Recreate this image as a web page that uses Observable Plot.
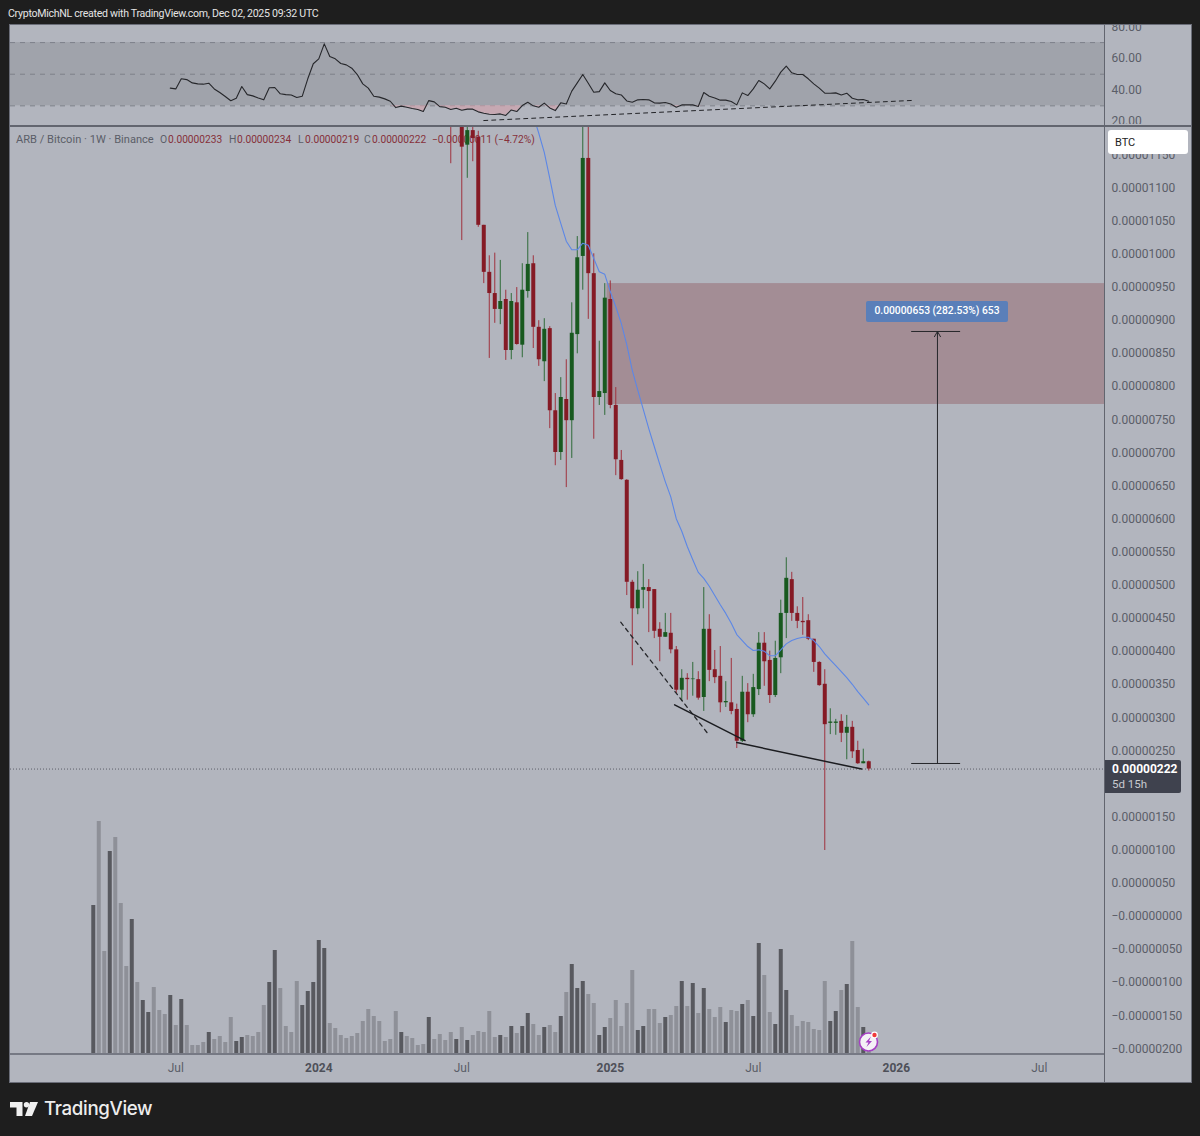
<!DOCTYPE html>
<html>
<head>
<meta charset="utf-8">
<script src="https://cdn.jsdelivr.net/npm/d3@7"></script>
<script src="https://cdn.jsdelivr.net/npm/@observablehq/plot@0.6"></script>
<style>
html,body{margin:0;padding:0;background:#1e1e1e;}
#stage{position:relative;width:1200px;height:1136px;overflow:hidden;background:#1e1e1e;font-family:Roboto,sans-serif;}
#stage>*{position:absolute;}
.txt{white-space:nowrap;}
</style>
</head>
<body>
<div id="stage"></div>
<script>
// ---------- data (prices in satoshi: 222 = 0.00000222 BTC) ----------
const firstWeek = Date.UTC(2023, 2, 20);
const candleStart = 65;
const opens  = [1300,1220,1210,1164,1186,1176,1043,972,940,916,931,854,926,862,943,985,889,837,887,763,700,780,748,878,996,1144,970,783,789,931,771,688,658,504,464,492,496,493,433,421,427,402,341,359,357,357,330,433,372,362,322,322,312,264,338,304,342,412,386,333,390,457,508,457,445,446,418,383,350,291,291,294,276,285,250,230,233];
const highs  = [1310,1330,1260,1230,1240,1185,1043,997,1001,990,945,940,949,985,1032,997,899,902,890,789,813,840,926,1026,1230,1230,1000,868,955,959,798,703,659,507,520,531,508,493,443,457,457,407,372,366,383,369,496,455,401,407,354,389,320,362,351,365,428,428,400,415,477,541,519,467,481,455,418,384,372,313,297,304,303,294,264,252,234];
const lows   = [1136,1200,1020,1114,1139,1040,955,842,895,893,839,840,862,843,933,857,830,807,736,680,688,647,691,849,945,901,720,771,756,766,665,658,484,378,455,464,428,419,384,421,396,336,324,326,332,326,309,354,351,307,315,304,253,262,292,300,333,347,321,330,366,419,445,434,424,416,368,347,99,274,273,262,236,238,229,230,219];
const closes = [1220,1300,1161,1186,1174,1043,972,940,916,928,854,928,863,945,984,889,840,886,763,700,783,748,880,994,1144,970,783,792,933,771,689,659,504,464,492,496,490,430,421,428,402,341,359,357,358,329,433,371,360,322,324,309,264,338,304,345,412,384,333,389,457,510,457,445,443,418,383,348,289,293,293,276,285,248,230,233,222];

const maStart = 80;
const maValues = [1209,1182,1153,1114,1073,1046,1019,1006,1006,1016,1013,993,973,969,943,920,895,863,824,794,765,736,709,682,656,633,600,581,558,538,519,510,498,484,470,457,442,425,416,407,401,402,400,393,393,402,411,416,419,421,421,416,407,396,387,378,369,360,350,339,329,319];

const volumeHeights = [148,232,102,202,216,150,87,134,71,53,41,66,43,39,58,28,54,28,8,8,11,21,14,17,11,36,12,16,18,17,21,48,71,103,65,27,21,72,48,62,71,113,105,30,25,18,15,17,20,32,44,37,32,12,14,42,21,17,15,8,9,36,14,19,13,21,14,26,13,18,22,21,42,16,18,16,27,20,27,40,29,18,26,28,21,37,61,89,65,72,59,50,18,26,35,53,27,50,83,23,27,44,44,30,36,38,47,72,47,70,40,65,44,36,46,31,43,42,49,53,37,110,78,41,29,104,63,38,27,32,31,24,23,72,32,42,63,69,112,46,26,12];
const volumeDark = [1,0,0,1,0,0,0,1,0,1,1,0,0,0,1,0,1,0,0,0,0,1,0,0,0,0,1,1,0,0,0,0,1,1,0,0,0,0,1,1,1,1,1,0,0,0,0,0,0,0,0,0,0,0,0,0,1,0,0,0,0,1,0,0,0,0,1,0,1,0,0,0,0,0,1,0,1,0,1,1,0,0,1,0,0,1,0,1,1,1,0,0,1,1,0,0,0,0,0,1,1,0,0,0,1,0,0,1,0,1,0,1,0,0,0,1,0,0,1,0,1,1,0,0,1,1,1,0,0,0,0,0,0,0,1,1,0,1,0,0,1,0];

const rsiStart = 14;
const rsiValues = [41.2,40.7,47.1,46.6,44.5,43.9,43.7,44.3,40.7,38.4,35.9,33.2,34.8,42.2,37.1,36.3,35.0,33.8,41.4,41.6,37.6,37.1,36.9,35.3,36.1,47.1,56.6,59.7,69.2,61.2,59.7,56.8,55.9,53.8,49.8,43.9,41.2,36.1,35.5,34.4,32.9,28.9,29.8,29.1,28.3,27.7,26.4,33.3,32.5,29.5,29.1,27.7,28.5,27.2,27.9,27.9,26.2,25.3,24.7,24.5,24.9,23.9,27.4,26.4,30.2,32.3,30.0,29.1,31.7,28.7,27.0,31.9,31.2,39.3,44.5,49.8,44.3,38.6,39.0,44.5,39.7,37.6,36.9,33.1,32.3,33.8,34.0,33.8,31.9,31.7,32.1,31.2,29.1,30.6,30.6,30.6,29.6,38.4,36.1,35.0,33.6,33.6,32.7,30.6,38.2,36.5,40.7,46.0,43.9,40.7,45.6,51.3,55.1,50.9,49.8,49.8,47.1,43.9,41.2,38.0,38.0,38.2,36.9,38.0,34.8,33.8,34.0,32.9];
const rsiLevels = [30,50,70];
const rsiTicks = [20,40,60,80];
const rsiTrend = [[71,20.7],[148.8,33.4]];

const priceTicks = d3.range(-200,1151,50).filter(v=>v!==200);
const lastPrice = 222;
const zone = {w1:93.4, w2:184, low:772.5, high:955};
const measure = {w:153.49, w1:148.8, w2:157.7, from:230.4, to:882.7};
const measureLabel = "0.00000653 (282.53%) 653";
const dashedFall = [[95.9,443.7],[111.7,276]];
const solidFallA = [[105.7,319],[118.5,265]];
const solidFallB = [[117,262],[139.7,222]];
const julyTicks = [[2023,6,3],[2024,6,1],[2025,6,7],[2026,6,6]];
const yearTicks = [[2024,0,1],[2025,0,6],[2026,0,5]];

// ---------- colours ----------
const upColor="#18591f", downColor="#851a25", upWick="#2f6b38", downWick="#a0323e", axisColor="#5b5e68", paneColor="#b2b5be", lineColor="#6a6d78";

// ---------- helpers ----------
const week = w => new Date(firstWeek + w*7*864e5);
const xOpts = {type:"utc", domain:[week(-15.05), week(183.86)]};
const plotBase = {width:1200, marginLeft:10, marginRight:96, x:xOpts, style:{background:"transparent",fontFamily:"Roboto,sans-serif",fontSize:"12px"}};
const noXAxis = {...xOpts, axis:null};
const stage = document.getElementById("stage");
function place(node,left,top){node.style.position="absolute";node.style.left=left+"px";node.style.top=top+"px";stage.appendChild(node);return node;}
function box(left,top,w,h,bg,extra){const d=document.createElement("div");d.style.cssText=`width:${w}px;height:${h}px;background:${bg};${extra||""}`;return place(d,left,top);}
function text(left,top,str,css){const d=document.createElement("div");d.className="txt";d.textContent=str;d.style.cssText=css||"";return place(d,left,top);}

// ---------- frame ----------
box(9,24,1183,1059,lineColor);
box(10,25,1181,1057,paneColor);
box(10,125,1181,2,"#62656f");
box(1104,25,1,1057,"#62656f");
box(10,1053,1094,2,"#767984");

// ---------- table builds ----------
const candles = opens.map((o,k)=>({date:week(candleStart+k),open:o,high:highs[k],low:lows[k],close:closes[k]}));
const ma = maValues.map((v,k)=>({date:week(maStart+k),v}));
const vol = volumeHeights.map((v,k)=>({date:week(k),v,dark:volumeDark[k]}));
const rsi = rsiValues.map((v,k)=>({date:week(rsiStart+k),v}));
const pts = a => a.map(([w,v])=>({date:week(w),v}));
const colorOf = d => d.close>=d.open?upColor:downColor;
const wickOf = d => d.close>=d.open?upWick:downWick;

// ---------- RSI pane ----------
place(Plot.plot({...plotBase,x:noXAxis,height:99,marginTop:0,marginBottom:0,
  y:{domain:[18.2,80.8],axis:null},
  marks:[
    Plot.rect([{a:xOpts.domain[0],b:xOpts.domain[1],l:30,h:70}],{x1:"a",x2:"b",y1:"l",y2:"h",fill:"#a0a3ab"}),
    Plot.ruleY(rsiLevels,{stroke:"#7d808a",strokeDasharray:"5,5"}),
    Plot.areaY(rsi,{x:"date",y1:30,y2:d=>Math.min(d.v,30),fill:"#cfa3ac",fillOpacity:.7}),
    Plot.line(rsi,{x:"date",y:"v",stroke:"#26272b",strokeWidth:1.1}),
    Plot.line(pts(rsiTrend),{x:"date",y:"v",stroke:"#222327",strokeWidth:1,strokeDasharray:"4,4"}),
    Plot.axisY({anchor:"right",ticks:rsiTicks,tickSize:0,tickPadding:7,label:null,tickFormat:d=>d.toFixed(2),fill:axisColor})
  ]}),0,25);

// ---------- legend row (drawn beneath the candles) ----------
const legend = [[16,"ARB / Bitcoin \u00b7 1W \u00b7 Binance","#5b5e68",11.1],[160,"O","#5b5e68",10.4],[168,"0.00000233","#86303a",10.2],[229,"H","#5b5e68",10.4],[237,"0.00000234","#86303a",10.2],[298,"L","#5b5e68",10.4],[305,"0.00000219","#86303a",10.2],[364,"C","#5b5e68",10.4],[372,"0.00000222","#86303a",10.2],[432,"\u22120.00000011 (\u22124.72%)","#86303a",10.2]];
legend.forEach(([x,s,c,f])=>text(x,133,s,`color:${c};font-size:${f}px;line-height:14px;`));

// ---------- volume (under candles) ----------
place(Plot.plot({...plotBase,x:noXAxis,height:926,marginTop:0,marginBottom:0,
  y:{domain:[0,926],axis:null},
  marks:[
    Plot.ruleX(vol.filter(d=>!d.dark),{x:"date",y1:0,y2:"v",stroke:"#8e9098",strokeWidth:4}),
    Plot.ruleX(vol.filter(d=>d.dark),{x:"date",y1:0,y2:"v",stroke:"#58595f",strokeWidth:4})
  ]}),0,127);

// ---------- price pane ----------
const fmtPrice = v => (v<=0?"\u2212":"")+(Math.abs(v)/1e8).toFixed(8);
const ymd = ([y,m,d]) => new Date(Date.UTC(y,m,d));
const zoneRow = [{a:week(zone.w1),b:week(zone.w2),l:zone.low,h:zone.high}];
place(Plot.plot({...plotBase,height:954,marginTop:0,marginBottom:28,
  y:{domain:[-207.5,1190.7],axis:null},
  color:{type:"identity"},
  marks:[
    Plot.rect(zoneRow,{x1:"a",x2:"b",y1:"l",y2:"h",fill:"#a38d95",clip:true}),
    Plot.ruleY([lastPrice],{stroke:"#5b5e68",strokeDasharray:"1,2"}),
    Plot.ruleX(candles,{x:"date",y1:"low",y2:"high",stroke:wickOf,strokeWidth:1,clip:true}),
    Plot.ruleX(candles,{x:"date",y1:"open",y2:"close",stroke:colorOf,strokeWidth:4,clip:true}),
    Plot.line(ma,{x:"date",y:"v",stroke:"#5c87e6",strokeWidth:1.1,clip:true}),
    Plot.line(pts(dashedFall),{x:"date",y:"v",stroke:"#26272b",strokeWidth:1.3,strokeDasharray:"4,4"}),
    Plot.line(pts(solidFallA),{x:"date",y:"v",stroke:"#1b1c20",strokeWidth:1.5}),
    Plot.line(pts(solidFallB),{x:"date",y:"v",stroke:"#1b1c20",strokeWidth:1.5}),
    Plot.arrow([{a:week(measure.w),f:measure.from,t:measure.to}],{x1:"a",x2:"a",y1:"f",y2:"t",stroke:"#26272b",strokeWidth:1,headLength:9}),
    Plot.ruleY([measure.from,measure.to],{x1:week(measure.w1),x2:week(measure.w2),stroke:"#26272b",strokeWidth:1}),
    Plot.axisY({anchor:"right",ticks:priceTicks,tickSize:0,tickPadding:7,label:null,tickFormat:fmtPrice,fill:axisColor,dy:0.3}),
    Plot.axisX({anchor:"bottom",ticks:julyTicks.map(ymd),tickSize:0,tickPadding:10,label:null,tickFormat:()=>"Jul",fill:axisColor}),
    Plot.axisX({anchor:"bottom",ticks:yearTicks.map(ymd),tickSize:0,tickPadding:10,label:null,tickFormat:d=>String(d.getUTCFullYear()),fill:"#4e5059",fontWeight:"bold"})
  ]}),0,127);

// ---------- overlays ----------
box(866,301,142,21,"#5a7fb9","border-radius:2px;");
text(866,301,measureLabel,"width:142px;height:21px;line-height:20px;text-align:center;color:#fff;font-size:10.3px;font-weight:500;");

box(1108,130,80,24,"#ffffff","border-radius:3px;");
text(1115,136,"BTC","color:#222;font-size:11px;line-height:14px;");

box(1105,760,76,33,"#3f424e","border-radius:0 2px 2px 0;");
text(1112,761,"0.00000222","color:#fff;font-size:12px;font-weight:700;line-height:16px;");
text(1112,777,"5d 15h","color:#c8cad0;font-size:11.5px;line-height:15px;");

text(8,7,"CryptoMichNL created with TradingView.com, Dec 02, 2025 09:32 UTC","color:#e4e4e4;font-size:10.6px;letter-spacing:-.29px;line-height:14px;");

// small flash badge
const badge=document.createElementNS("http://www.w3.org/2000/svg","svg");
badge.setAttribute("width","22");badge.setAttribute("height","22");badge.setAttribute("viewBox","0 0 22 22");
badge.innerHTML='<circle cx="10.5" cy="12" r="9" fill="#f4f1f6" stroke="#a53fc4" stroke-width="1.6"/><path d="M13 6.5 7.5 12.5h3l-2 4.5 5.5-6h-3z" fill="#a53fc4"/><circle cx="16.5" cy="5" r="3.4" fill="#fff"/><circle cx="16.5" cy="5" r="2.2" fill="#ef3a3a"/>';
place(badge,858,1030);

// TradingView footer
const logo=document.createElementNS("http://www.w3.org/2000/svg","svg");
logo.setAttribute("width","28");logo.setAttribute("height","15");logo.setAttribute("viewBox","0 0 28 15");
logo.innerHTML='<path d="M0 0h12.5v14H6.5V5.5H0z" fill="#f0f0f0"/><circle cx="16.5" cy="2.7" r="2.7" fill="#f0f0f0"/><path d="M20 0h8l-6 14h-7z" fill="#f0f0f0"/>';
place(logo,10,1102);
text(44,1097,"TradingView","color:#ededed;font-family:Inter,Roboto,sans-serif;font-size:18.7px;font-weight:500;line-height:24px;letter-spacing:-.35px;");
</script>
</body>
</html>
